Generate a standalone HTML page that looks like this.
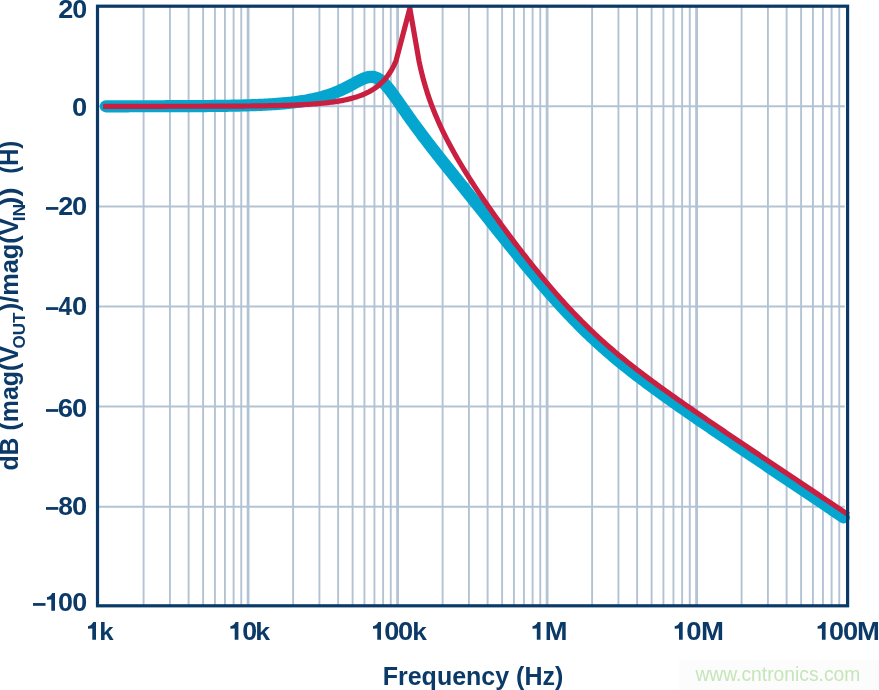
<!DOCTYPE html>
<html><head><meta charset="utf-8"><style>
html,body{margin:0;padding:0;background:#fff;}
body{width:879px;height:690px;overflow:hidden;position:relative;}
svg{position:absolute;left:0;top:0;}
text{font-family:"Liberation Sans",sans-serif;}
svg{will-change:transform;}
</style></head><body>
<svg width="879" height="690" viewBox="0 0 879 690">
<rect width="879" height="690" fill="#fff"/>
<g stroke="#b3c3d3" stroke-width="2" fill="none">
<line x1="97" y1="106.30" x2="844.8" y2="106.30"/>
<line x1="97" y1="206.40" x2="844.8" y2="206.40"/>
<line x1="97" y1="306.50" x2="844.8" y2="306.50"/>
<line x1="97" y1="406.60" x2="844.8" y2="406.60"/>
<line x1="97" y1="506.70" x2="844.8" y2="506.70"/>
<line x1="143.60" y1="6" x2="143.60" y2="606" stroke-width="1.9"/>
<line x1="169.93" y1="6" x2="169.93" y2="606" stroke-width="1.9"/>
<line x1="188.61" y1="6" x2="188.61" y2="606" stroke-width="1.9"/>
<line x1="203.10" y1="6" x2="203.10" y2="606" stroke-width="1.9"/>
<line x1="214.93" y1="6" x2="214.93" y2="606" stroke-width="1.9"/>
<line x1="224.94" y1="6" x2="224.94" y2="606" stroke-width="1.9"/>
<line x1="233.61" y1="6" x2="233.61" y2="606" stroke-width="1.9"/>
<line x1="241.26" y1="6" x2="241.26" y2="606" stroke-width="1.9"/>
<line x1="248.10" y1="6" x2="248.10" y2="606" stroke-width="2.8"/>
<line x1="293.10" y1="6" x2="293.10" y2="606" stroke-width="1.9"/>
<line x1="319.43" y1="6" x2="319.43" y2="606" stroke-width="1.9"/>
<line x1="338.11" y1="6" x2="338.11" y2="606" stroke-width="1.9"/>
<line x1="352.60" y1="6" x2="352.60" y2="606" stroke-width="1.9"/>
<line x1="364.43" y1="6" x2="364.43" y2="606" stroke-width="1.9"/>
<line x1="374.44" y1="6" x2="374.44" y2="606" stroke-width="1.9"/>
<line x1="383.11" y1="6" x2="383.11" y2="606" stroke-width="1.9"/>
<line x1="390.76" y1="6" x2="390.76" y2="606" stroke-width="1.9"/>
<line x1="397.60" y1="6" x2="397.60" y2="606" stroke-width="2.8"/>
<line x1="442.60" y1="6" x2="442.60" y2="606" stroke-width="1.9"/>
<line x1="468.93" y1="6" x2="468.93" y2="606" stroke-width="1.9"/>
<line x1="487.61" y1="6" x2="487.61" y2="606" stroke-width="1.9"/>
<line x1="502.10" y1="6" x2="502.10" y2="606" stroke-width="1.9"/>
<line x1="513.93" y1="6" x2="513.93" y2="606" stroke-width="1.9"/>
<line x1="523.94" y1="6" x2="523.94" y2="606" stroke-width="1.9"/>
<line x1="532.61" y1="6" x2="532.61" y2="606" stroke-width="1.9"/>
<line x1="540.26" y1="6" x2="540.26" y2="606" stroke-width="1.9"/>
<line x1="547.10" y1="6" x2="547.10" y2="606" stroke-width="2.8"/>
<line x1="592.10" y1="6" x2="592.10" y2="606" stroke-width="1.9"/>
<line x1="618.43" y1="6" x2="618.43" y2="606" stroke-width="1.9"/>
<line x1="637.11" y1="6" x2="637.11" y2="606" stroke-width="1.9"/>
<line x1="651.60" y1="6" x2="651.60" y2="606" stroke-width="1.9"/>
<line x1="663.43" y1="6" x2="663.43" y2="606" stroke-width="1.9"/>
<line x1="673.44" y1="6" x2="673.44" y2="606" stroke-width="1.9"/>
<line x1="682.11" y1="6" x2="682.11" y2="606" stroke-width="1.9"/>
<line x1="689.76" y1="6" x2="689.76" y2="606" stroke-width="1.9"/>
<line x1="696.60" y1="6" x2="696.60" y2="606" stroke-width="2.8"/>
<line x1="741.60" y1="6" x2="741.60" y2="606" stroke-width="1.9"/>
<line x1="767.93" y1="6" x2="767.93" y2="606" stroke-width="1.9"/>
<line x1="786.61" y1="6" x2="786.61" y2="606" stroke-width="1.9"/>
<line x1="801.10" y1="6" x2="801.10" y2="606" stroke-width="1.9"/>
<line x1="812.93" y1="6" x2="812.93" y2="606" stroke-width="1.9"/>
<line x1="822.94" y1="6" x2="822.94" y2="606" stroke-width="1.9"/>
<line x1="831.61" y1="6" x2="831.61" y2="606" stroke-width="1.9"/>
<line x1="839.26" y1="6" x2="839.26" y2="606" stroke-width="1.9"/>
</g>
<defs><clipPath id="pc"><rect x="90" y="5.5" width="789" height="610"/></clipPath></defs>
<g clip-path="url(#pc)" fill="none" stroke-linejoin="round">
<path d="M105.80,106.29 L107.30,106.29 L108.80,106.29 L110.30,106.29 L111.80,106.29 L113.30,106.28 L114.80,106.28 L116.30,106.28 L117.80,106.28 L119.30,106.28 L120.80,106.28 L122.30,106.28 L123.80,106.28 L125.30,106.28 L126.80,106.28 L128.30,106.28 L129.80,106.27 L131.30,106.27 L132.80,106.27 L134.30,106.27 L135.80,106.27 L137.30,106.27 L138.80,106.27 L140.30,106.26 L141.80,106.26 L143.30,106.26 L144.80,106.26 L146.30,106.26 L147.80,106.26 L149.30,106.25 L150.80,106.25 L152.30,106.25 L153.80,106.25 L155.30,106.24 L156.80,106.24 L158.30,106.24 L159.80,106.24 L161.30,106.23 L162.80,106.23 L164.30,106.23 L165.80,106.22 L167.30,106.22 L168.80,106.21 L170.30,106.21 L171.80,106.21 L173.30,106.20 L174.80,106.20 L176.30,106.19 L177.80,106.19 L179.30,106.18 L180.80,106.18 L182.30,106.17 L183.80,106.16 L185.30,106.16 L186.80,106.15 L188.30,106.14 L189.80,106.14 L191.30,106.13 L192.80,106.12 L194.30,106.11 L195.80,106.10 L197.30,106.09 L198.80,106.08 L200.30,106.07 L201.80,106.06 L203.30,106.05 L204.80,106.04 L206.30,106.03 L207.80,106.02 L209.30,106.00 L210.80,105.99 L212.30,105.97 L213.80,105.96 L215.30,105.94 L216.80,105.92 L218.30,105.91 L219.80,105.89 L221.30,105.87 L222.80,105.85 L224.30,105.83 L225.80,105.81 L227.30,105.78 L228.80,105.76 L230.30,105.73 L231.80,105.70 L233.30,105.68 L234.80,105.65 L236.30,105.62 L237.80,105.58 L239.30,105.55 L240.80,105.52 L242.30,105.48 L243.80,105.44 L245.30,105.40 L246.80,105.36 L248.30,105.31 L249.80,105.27 L251.30,105.22 L252.80,105.17 L254.30,105.11 L255.80,105.06 L257.30,105.00 L258.80,104.94 L260.30,104.87 L261.80,104.80 L263.30,104.73 L264.80,104.66 L266.30,104.58 L267.80,104.50 L269.30,104.42 L270.80,104.33 L272.30,104.24 L273.80,104.14 L275.30,104.04 L276.80,103.93 L278.30,103.82 L279.80,103.70 L281.30,103.58 L282.80,103.45 L284.30,103.32 L285.80,103.18 L287.30,103.04 L288.80,102.88 L290.30,102.72 L291.80,102.55 L293.30,102.38 L294.80,102.20 L296.30,102.00 L297.80,101.80 L299.30,101.59 L300.80,101.38 L302.30,101.15 L303.80,100.91 L305.30,100.66 L306.80,100.39 L308.30,100.12 L309.80,99.83 L311.30,99.53 L312.80,99.22 L314.30,98.89 L315.80,98.55 L317.30,98.19 L318.80,97.82 L320.30,97.43 L321.80,97.03 L323.30,96.60 L324.80,96.16 L326.30,95.70 L327.80,95.22 L329.30,94.72 L330.80,94.20 L332.30,93.65 L333.80,93.09 L335.30,92.50 L336.80,91.90 L338.30,91.26 L339.80,90.61 L341.30,89.93 L342.80,89.23 L344.30,88.51 L345.80,87.77 L347.30,87.01 L348.80,86.24 L350.30,85.44 L351.80,84.64 L353.30,83.83 L354.80,83.01 L356.30,82.20 L357.80,81.41 L359.30,80.63 L360.80,79.88 L362.30,79.18 L363.80,78.54 L365.30,77.98 L366.80,77.50 L368.30,77.14 L369.80,76.90 L371.30,76.81 L372.80,76.89 L374.30,77.14 L375.80,77.58 L377.30,78.21 L378.80,79.03 L380.30,80.05 L381.80,81.24 L383.30,82.60 L384.80,84.11 L386.30,85.75 L387.80,87.51 L389.30,89.37 L390.80,91.31 L392.30,93.32 L393.80,95.38 L395.30,97.47 L396.80,99.59 L398.30,101.73 L399.80,103.89 L401.30,106.04 L402.80,108.20 L404.30,110.35 L405.80,112.49 L407.30,114.62 L408.80,116.75 L410.30,118.85 L411.80,120.95 L413.30,123.03 L414.80,125.09 L416.30,127.15 L417.80,129.18 L419.30,131.21 L420.80,133.22 L422.30,135.22 L423.80,137.20 L425.30,139.18 L426.80,141.14 L428.30,143.10 L429.80,145.04 L431.30,146.98 L432.80,148.91 L434.30,150.83 L435.80,152.74 L437.30,154.65 L438.80,156.55 L440.30,158.45 L441.80,160.35 L443.30,162.24 L444.80,164.12 L446.30,166.01 L447.80,167.89 L449.30,169.77 L450.80,171.65 L452.30,173.53 L453.80,175.40 L455.30,177.28 L456.80,179.15 L458.30,181.02 L459.80,182.90 L461.30,184.77 L462.80,186.65 L464.30,188.52 L465.80,190.40 L467.30,192.27 L468.80,194.15 L470.30,196.02 L471.80,197.90 L473.30,199.78 L474.80,201.65 L476.30,203.53 L477.80,205.41 L479.30,207.29 L480.80,209.17 L482.30,211.05 L483.80,212.93 L485.30,214.81 L486.80,216.69 L488.30,218.57 L489.80,220.45 L491.30,222.33 L492.80,224.21 L494.30,226.09 L495.80,227.97 L497.30,229.85 L498.80,231.72 L500.30,233.60 L501.80,235.47 L503.30,237.34 L504.80,239.21 L506.30,241.08 L507.80,242.95 L509.30,244.81 L510.80,246.67 L512.30,248.53 L513.80,250.39 L515.30,252.24 L516.80,254.09 L518.30,255.93 L519.80,257.78 L521.30,259.61 L522.80,261.45 L524.30,263.27 L525.80,265.10 L527.30,266.92 L528.80,268.73 L530.30,270.54 L531.80,272.34 L533.30,274.13 L534.80,275.92 L536.30,277.71 L537.80,279.48 L539.30,281.25 L540.80,283.02 L542.30,284.77 L543.80,286.52 L545.30,288.26 L546.80,289.99 L548.30,291.71 L549.80,293.42 L551.30,295.13 L552.80,296.83 L554.30,298.51 L555.80,300.19 L557.30,301.86 L558.80,303.52 L560.30,305.17 L561.80,306.80 L563.30,308.43 L564.80,310.05 L566.30,311.66 L567.80,313.25 L569.30,314.84 L570.80,316.41 L572.30,317.97 L573.80,319.53 L575.30,321.07 L576.80,322.60 L578.30,324.12 L579.80,325.62 L581.30,327.12 L582.80,328.60 L584.30,330.08 L585.80,331.54 L587.30,332.99 L588.80,334.43 L590.30,335.86 L591.80,337.27 L593.30,338.68 L594.80,340.07 L596.30,341.46 L597.80,342.83 L599.30,344.19 L600.80,345.55 L602.30,346.89 L603.80,348.22 L605.30,349.54 L606.80,350.85 L608.30,352.15 L609.80,353.45 L611.30,354.73 L612.80,356.00 L614.30,357.27 L615.80,358.53 L617.30,359.77 L618.80,361.01 L620.30,362.24 L621.80,363.47 L623.30,364.68 L624.80,365.89 L626.30,367.09 L627.80,368.29 L629.30,369.47 L630.80,370.65 L632.30,371.82 L633.80,372.99 L635.30,374.15 L636.80,375.31 L638.30,376.45 L639.80,377.60 L641.30,378.74 L642.80,379.87 L644.30,381.00 L645.80,382.12 L647.30,383.24 L648.80,384.35 L650.30,385.46 L651.80,386.56 L653.30,387.66 L654.80,388.76 L656.30,389.85 L657.80,390.94 L659.30,392.03 L660.80,393.11 L662.30,394.19 L663.80,395.26 L665.30,396.34 L666.80,397.41 L668.30,398.47 L669.80,399.54 L671.30,400.60 L672.80,401.66 L674.30,402.72 L675.80,403.77 L677.30,404.83 L678.80,405.88 L680.30,406.92 L681.80,407.97 L683.30,409.02 L684.80,410.06 L686.30,411.10 L687.80,412.14 L689.30,413.18 L690.80,414.22 L692.30,415.25 L693.80,416.28 L695.30,417.32 L696.80,418.35 L698.30,419.38 L699.80,420.41 L701.30,421.44 L702.80,422.46 L704.30,423.49 L705.80,424.51 L707.30,425.54 L708.80,426.56 L710.30,427.58 L711.80,428.61 L713.30,429.63 L714.80,430.65 L716.30,431.67 L717.80,432.68 L719.30,433.70 L720.80,434.72 L722.30,435.74 L723.80,436.75 L725.30,437.77 L726.80,438.78 L728.30,439.80 L729.80,440.81 L731.30,441.83 L732.80,442.84 L734.30,443.85 L735.80,444.87 L737.30,445.88 L738.80,446.89 L740.30,447.90 L741.80,448.91 L743.30,449.93 L744.80,450.94 L746.30,451.95 L747.80,452.96 L749.30,453.97 L750.80,454.98 L752.30,455.98 L753.80,456.99 L755.30,458.00 L756.80,459.01 L758.30,460.02 L759.80,461.03 L761.30,462.04 L762.80,463.04 L764.30,464.05 L765.80,465.06 L767.30,466.07 L768.80,467.08 L770.30,468.08 L771.80,469.09 L773.30,470.10 L774.80,471.10 L776.30,472.11 L777.80,473.12 L779.30,474.12 L780.80,475.13 L782.30,476.14 L783.80,477.14 L785.30,478.15 L786.80,479.15 L788.30,480.16 L789.80,481.17 L791.30,482.17 L792.80,483.18 L794.30,484.18 L795.80,485.19 L797.30,486.20 L798.80,487.20 L800.30,488.21 L801.80,489.21 L803.30,490.22 L804.80,491.22 L806.30,492.23 L807.80,493.23 L809.30,494.24 L810.80,495.24 L812.30,496.25 L813.80,497.25 L815.30,498.26 L816.80,499.26 L818.30,500.27 L819.80,501.27 L821.30,502.28 L822.80,503.28 L824.30,504.29 L825.80,505.29 L827.30,506.30 L828.80,507.30 L830.30,508.31 L831.80,509.31 L833.30,510.32 L834.80,511.32 L836.30,512.33 L837.80,513.33 L839.30,514.34 L840.80,515.34 L842.30,516.35 L843.80,517.35" stroke="#04a6d0" stroke-width="12.2" stroke-linecap="round"/>
<path d="M103.10,106.30 L104.60,106.30 L106.10,106.30 L107.60,106.30 L109.10,106.30 L110.60,106.30 L112.10,106.30 L113.60,106.30 L115.10,106.30 L116.60,106.29 L118.10,106.29 L119.60,106.29 L121.10,106.29 L122.60,106.29 L124.10,106.29 L125.60,106.29 L127.10,106.29 L128.60,106.29 L130.10,106.29 L131.60,106.29 L133.10,106.29 L134.60,106.29 L136.10,106.29 L137.60,106.29 L139.10,106.29 L140.60,106.29 L142.10,106.29 L143.60,106.29 L145.10,106.29 L146.60,106.29 L148.10,106.29 L149.60,106.29 L151.10,106.28 L152.60,106.28 L154.10,106.28 L155.60,106.28 L157.10,106.28 L158.60,106.28 L160.10,106.28 L161.60,106.28 L163.10,106.28 L164.60,106.28 L166.10,106.28 L167.60,106.27 L169.10,106.27 L170.60,106.27 L172.10,106.27 L173.60,106.27 L175.10,106.27 L176.60,106.27 L178.10,106.27 L179.60,106.26 L181.10,106.26 L182.60,106.26 L184.10,106.26 L185.60,106.26 L187.10,106.25 L188.60,106.25 L190.10,106.25 L191.60,106.25 L193.10,106.24 L194.60,106.24 L196.10,106.24 L197.60,106.24 L199.10,106.23 L200.60,106.23 L202.10,106.23 L203.60,106.22 L205.10,106.22 L206.60,106.22 L208.10,106.21 L209.60,106.21 L211.10,106.20 L212.60,106.20 L214.10,106.19 L215.60,106.19 L217.10,106.18 L218.60,106.18 L220.10,106.17 L221.60,106.17 L223.10,106.16 L224.60,106.15 L226.10,106.15 L227.60,106.14 L229.10,106.13 L230.60,106.13 L232.10,106.12 L233.60,106.11 L235.10,106.10 L236.60,106.09 L238.10,106.08 L239.60,106.07 L241.10,106.06 L242.60,106.05 L244.10,106.03 L245.60,106.02 L247.10,106.01 L248.60,105.99 L250.10,105.98 L251.60,105.97 L253.10,105.95 L254.60,105.93 L256.10,105.92 L257.60,105.90 L259.10,105.88 L260.60,105.86 L262.10,105.84 L263.60,105.81 L265.10,105.79 L266.60,105.77 L268.10,105.74 L269.60,105.72 L271.10,105.69 L272.60,105.66 L274.10,105.63 L275.60,105.60 L277.10,105.56 L278.60,105.53 L280.10,105.49 L281.60,105.45 L283.10,105.41 L284.60,105.37 L286.10,105.32 L287.60,105.28 L289.10,105.23 L290.60,105.18 L292.10,105.12 L293.60,105.07 L295.10,105.01 L296.60,104.95 L298.10,104.88 L299.60,104.81 L301.10,104.74 L302.60,104.67 L304.10,104.59 L305.60,104.50 L307.10,104.42 L308.60,104.33 L310.10,104.23 L311.60,104.13 L313.10,104.03 L314.60,103.92 L316.10,103.80 L317.60,103.68 L319.10,103.55 L320.60,103.41 L322.10,103.27 L323.60,103.13 L325.10,102.97 L326.60,102.81 L328.10,102.63 L329.60,102.45 L331.10,102.26 L332.60,102.06 L334.10,101.85 L335.60,101.63 L337.10,101.39 L338.60,101.15 L340.10,100.89 L341.60,100.62 L343.10,100.33 L344.60,100.03 L346.10,99.71 L347.60,99.37 L349.10,99.01 L350.60,98.64 L352.10,98.24 L353.60,97.82 L355.10,97.37 L356.60,96.90 L358.10,96.41 L359.60,95.88 L361.10,95.32 L362.60,94.73 L364.10,94.10 L365.60,93.43 L367.10,92.71 L368.60,91.96 L370.10,91.15 L371.60,90.29 L373.10,89.36 L374.60,88.38 L376.10,87.32 L377.60,86.19 L379.10,84.97 L380.60,83.66 L382.10,82.24 L383.60,80.70 L385.10,79.04 L386.60,77.23 L388.10,75.25 L389.60,73.08 L391.10,70.70 L392.60,68.06 L394.10,65.13 L395.60,61.84 L396.00,60.90 L409.85,8.30 L419.00,61.03 L420.00,65.70 L421.50,72.15 L423.00,78.06 L424.50,83.52 L426.00,88.60 L427.50,93.36 L429.00,97.85 L430.50,102.10 L432.00,106.16 L433.50,110.04 L435.00,113.76 L436.50,117.35 L438.00,120.81 L439.50,124.16 L441.00,127.41 L442.50,130.58 L444.00,133.66 L445.50,136.67 L447.00,139.61 L448.50,142.49 L450.00,145.31 L451.50,148.08 L453.00,150.80 L454.50,153.47 L456.00,156.11 L457.50,158.70 L459.00,161.26 L460.50,163.79 L462.00,166.28 L463.50,168.75 L465.00,171.18 L466.50,173.59 L468.00,175.98 L469.50,178.34 L471.00,180.68 L472.50,183.00 L474.00,185.30 L475.50,187.58 L477.00,189.85 L478.50,192.10 L480.00,194.33 L481.50,196.54 L483.00,198.74 L484.50,200.93 L486.00,203.10 L487.50,205.27 L489.00,207.41 L490.50,209.55 L492.00,211.67 L493.50,213.79 L495.00,215.89 L496.50,217.98 L498.00,220.06 L499.50,222.14 L501.00,224.20 L502.50,226.25 L504.00,228.29 L505.50,230.33 L507.00,232.35 L508.50,234.37 L510.00,236.37 L511.50,238.37 L513.00,240.36 L514.50,242.34 L516.00,244.31 L517.50,246.27 L519.00,248.23 L520.50,250.17 L522.00,252.11 L523.50,254.04 L525.00,255.96 L526.50,257.87 L528.00,259.77 L529.50,261.66 L531.00,263.55 L532.50,265.42 L534.00,267.29 L535.50,269.14 L537.00,270.99 L538.50,272.83 L540.00,274.66 L541.50,276.48 L543.00,278.28 L544.50,280.08 L546.00,281.87 L547.50,283.65 L549.00,285.42 L550.50,287.17 L552.00,288.92 L553.50,290.66 L555.00,292.38 L556.50,294.10 L558.00,295.80 L559.50,297.49 L561.00,299.17 L562.50,300.84 L564.00,302.50 L565.50,304.14 L567.00,305.78 L568.50,307.40 L570.00,309.01 L571.50,310.61 L573.00,312.19 L574.50,313.77 L576.00,315.33 L577.50,316.88 L579.00,318.42 L580.50,319.94 L582.00,321.46 L583.50,322.96 L585.00,324.45 L586.50,325.93 L588.00,327.39 L589.50,328.84 L591.00,330.29 L592.50,331.72 L594.00,333.14 L595.50,334.54 L597.00,335.94 L598.50,337.32 L600.00,338.70 L601.50,340.06 L603.00,341.41 L604.50,342.76 L606.00,344.09 L607.50,345.41 L609.00,346.72 L610.50,348.02 L612.00,349.31 L613.50,350.59 L615.00,351.86 L616.50,353.13 L618.00,354.38 L619.50,355.63 L621.00,356.87 L622.50,358.10 L624.00,359.32 L625.50,360.53 L627.00,361.74 L628.50,362.93 L630.00,364.13 L631.50,365.31 L633.00,366.49 L634.50,367.66 L636.00,368.82 L637.50,369.98 L639.00,371.13 L640.50,372.28 L642.00,373.42 L643.50,374.56 L645.00,375.69 L646.50,376.81 L648.00,377.94 L649.50,379.05 L651.00,380.16 L652.50,381.27 L654.00,382.37 L655.50,383.47 L657.00,384.57 L658.50,385.66 L660.00,386.75 L661.50,387.83 L663.00,388.91 L664.50,389.99 L666.00,391.06 L667.50,392.14 L669.00,393.20 L670.50,394.27 L672.00,395.33 L673.50,396.39 L675.00,397.45 L676.50,398.51 L678.00,399.56 L679.50,400.61 L681.00,401.66 L682.50,402.71 L684.00,403.76 L685.50,404.80 L687.00,405.84 L688.50,406.89 L690.00,407.92 L691.50,408.96 L693.00,410.00 L694.50,411.03 L696.00,412.07 L697.50,413.10 L699.00,414.13 L700.50,415.16 L702.00,416.19 L703.50,417.22 L705.00,418.24 L706.50,419.27 L708.00,420.29 L709.50,421.32 L711.00,422.34 L712.50,423.36 L714.00,424.38 L715.50,425.40 L717.00,426.42 L718.50,427.44 L720.00,428.46 L721.50,429.48 L723.00,430.49 L724.50,431.51 L726.00,432.53 L727.50,433.54 L729.00,434.56 L730.50,435.57 L732.00,436.59 L733.50,437.60 L735.00,438.61 L736.50,439.63 L738.00,440.64 L739.50,441.65 L741.00,442.66 L742.50,443.67 L744.00,444.69 L745.50,445.70 L747.00,446.71 L748.50,447.72 L750.00,448.73 L751.50,449.74 L753.00,450.75 L754.50,451.76 L756.00,452.76 L757.50,453.77 L759.00,454.78 L760.50,455.79 L762.00,456.80 L763.50,457.81 L765.00,458.82 L766.50,459.82 L768.00,460.83 L769.50,461.84 L771.00,462.85 L772.50,463.85 L774.00,464.86 L775.50,465.87 L777.00,466.87 L778.50,467.88 L780.00,468.89 L781.50,469.89 L783.00,470.90 L784.50,471.91 L786.00,472.91 L787.50,473.92 L789.00,474.92 L790.50,475.93 L792.00,476.94 L793.50,477.94 L795.00,478.95 L796.50,479.95 L798.00,480.96 L799.50,481.96 L801.00,482.97 L802.50,483.98 L804.00,484.98 L805.50,485.99 L807.00,486.99 L808.50,488.00 L810.00,489.00 L811.50,490.01 L813.00,491.01 L814.50,492.02 L816.00,493.02 L817.50,494.03 L819.00,495.03 L820.50,496.04 L822.00,497.04 L823.50,498.05 L825.00,499.05 L826.50,500.06 L828.00,501.06 L829.50,502.07 L831.00,503.07 L832.50,504.08 L834.00,505.08 L835.50,506.09 L837.00,507.09 L838.50,508.10 L840.00,509.10 L841.50,510.11 L843.00,511.11 L844.50,512.11 L846.00,513.12 L847.50,514.12 L848.50,514.79" stroke="#c91f40" stroke-width="5.2" stroke-linecap="butt" stroke-linejoin="miter" stroke-miterlimit="20"/>
</g>
<rect x="97.5" y="6.2" width="750.1" height="599.6" fill="none" stroke="#0b3a68" stroke-width="3.2"/>
<g fill="#0b3a68" font-weight="bold" font-size="25.3px">
<text transform="translate(58.16,17.70) scale(1.067,1)">2</text>
<text transform="translate(72.34,17.70) scale(1.064,1)">0</text>
<text transform="translate(72.02,115.65) scale(1.081,1)">0</text>
<rect x="46.00" y="207.05" width="12.30" height="2.75"/>
<text transform="translate(58.16,214.65) scale(1.067,1)">2</text>
<text transform="translate(72.02,214.65) scale(1.081,1)">0</text>
<rect x="46.00" y="307.20" width="12.30" height="2.75"/>
<text transform="translate(58.44,314.80) scale(0.952,1)">4</text>
<text transform="translate(72.02,314.80) scale(1.081,1)">0</text>
<rect x="46.00" y="409.10" width="12.30" height="2.75"/>
<text transform="translate(57.79,416.70) scale(1.087,1)">6</text>
<text transform="translate(72.02,416.70) scale(1.081,1)">0</text>
<rect x="46.00" y="507.05" width="12.30" height="2.75"/>
<text transform="translate(58.27,514.65) scale(1.041,1)">8</text>
<text transform="translate(72.02,514.65) scale(1.081,1)">0</text>
<rect x="33.00" y="603.05" width="12.50" height="2.75"/>
<path d="M55.00,592.90 L55.00,610.65 L51.30,610.65 L51.30,599.45 L47.00,599.70 L47.00,597.10 Q50.40,596.60 52.20,592.90 Z"/>
<text transform="translate(58.04,610.65) scale(1.064,1)">0</text>
<text transform="translate(72.14,610.65) scale(1.064,1)">0</text>
<path d="M96.00,622.00 L96.00,639.75 L92.30,639.75 L92.30,628.55 L88.00,628.80 L88.00,626.20 Q91.40,625.70 93.20,622.00 Z"/>
<text transform="translate(99.19,639.75) scale(1.022,0.966)">k</text>
<path d="M238.40,622.00 L238.40,639.75 L234.70,639.75 L234.70,628.55 L230.40,628.80 L230.40,626.20 Q233.80,625.70 235.60,622.00 Z"/>
<text transform="translate(242.14,639.75) scale(1.056,1)">0</text>
<text transform="translate(255.33,639.75) scale(1.054,0.966)">k</text>
<path d="M381.00,622.00 L381.00,639.75 L377.30,639.75 L377.30,628.55 L373.00,628.80 L373.00,626.20 Q376.40,625.70 378.20,622.00 Z"/>
<text transform="translate(384.23,639.75) scale(1.072,1)">0</text>
<text transform="translate(398.02,639.75) scale(1.081,1)">0</text>
<text transform="translate(412.26,639.75) scale(1.038,0.966)">k</text>
<path d="M540.50,622.00 L540.50,639.75 L536.80,639.75 L536.80,628.55 L532.50,628.80 L532.50,626.20 Q535.90,625.70 537.70,622.00 Z"/>
<text transform="translate(544.68,639.75) scale(1.080,1)">M</text>
<path d="M682.70,622.00 L682.70,639.75 L679.00,639.75 L679.00,628.55 L674.70,628.80 L674.70,626.20 Q678.10,625.70 679.90,622.00 Z"/>
<text transform="translate(686.21,639.75) scale(1.089,1)">0</text>
<text transform="translate(700.96,639.75) scale(1.091,1)">M</text>
<path d="M825.60,622.00 L825.60,639.75 L821.90,639.75 L821.90,628.55 L817.60,628.80 L817.60,626.20 Q821.00,625.70 822.80,622.00 Z"/>
<text transform="translate(829.04,639.75) scale(1.064,1)">0</text>
<text transform="translate(842.92,639.75) scale(1.081,1)">0</text>
<text transform="translate(856.97,639.75) scale(1.085,1)">M</text>
</g>
<text x="473" y="685.1" text-anchor="middle" fill="#0b3a68" font-weight="bold" font-size="25px">Frequency (Hz)</text>
<g fill="#0b3a68" font-weight="bold"><text transform="translate(17.60,0) rotate(-90)" x="-470.62" y="0" font-size="25px" textLength="124.49" lengthAdjust="spacingAndGlyphs">dB (mag(V</text><text transform="translate(24.90,0) rotate(-90)" x="-348.60" y="0" font-size="16.6px" textLength="35.88" lengthAdjust="spacingAndGlyphs">OUT</text><text transform="translate(17.60,0) rotate(-90)" x="-311.32" y="0" font-size="25px" textLength="93.00" lengthAdjust="spacingAndGlyphs">)/mag(V</text><text transform="translate(24.90,0) rotate(-90)" x="-221.27" y="0" font-size="16.6px" textLength="17.56" lengthAdjust="spacingAndGlyphs">IN</text><text transform="translate(17.60,0) rotate(-90)" x="-205.73" y="0" font-size="25px" textLength="18.29" lengthAdjust="spacingAndGlyphs">))</text><text transform="translate(17.60,0) rotate(-90)" x="-173.67" y="0" font-size="25px" textLength="32.75" lengthAdjust="spacingAndGlyphs">(H)</text></g>
<rect x="679" y="660" width="200" height="30" fill="#fcfcfc"/>
<text x="695.4" y="680.6" fill="#c4e6b8" font-size="19.3px">www.cntronics.com</text>
</svg>
</body></html>
